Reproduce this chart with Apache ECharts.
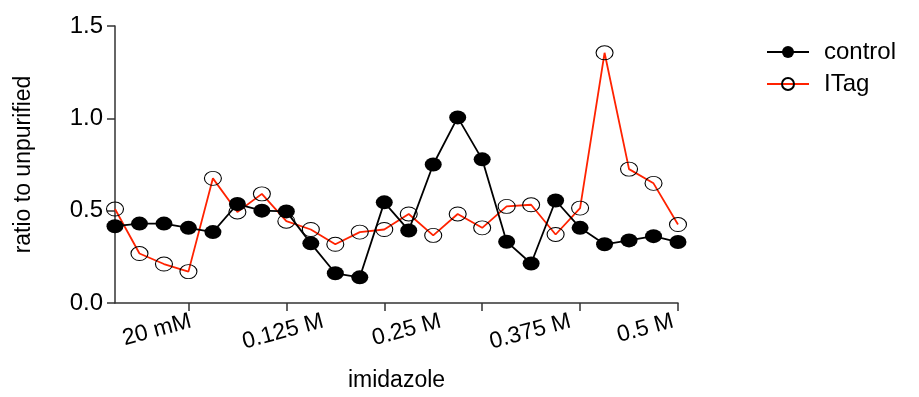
<!DOCTYPE html>
<html>
<head>
<meta charset="utf-8">
<script src="https://cdn.jsdelivr.net/npm/echarts@6/dist/echarts.min.js"></script>
<style>html,body{margin:0;padding:0;background:#fff}#c{width:919px;height:397px}</style>
</head>
<body>
<div id="c"></div>
<script>
const fractions = [0,1,2,3,4,5,6,7,8,9,10,11,12,13,14,15,16,17,18,19,20,21,22,23];
const control = [0.416,0.43,0.43,0.407,0.384,0.536,0.5,0.496,0.323,0.161,0.139,0.545,0.393,0.75,1.005,0.778,0.332,0.214,0.555,0.407,0.318,0.339,0.362,0.33];
const itag = [0.509,0.268,0.211,0.17,0.675,0.493,0.591,0.443,0.398,0.318,0.384,0.398,0.482,0.366,0.482,0.407,0.523,0.532,0.371,0.514,1.355,0.725,0.648,0.425];
const tickValues = [3,7,11,15,19,23];
const labelValues = [3.1,8.5,13.3,18.6,22.8];
const labelTexts = ['20 mM','0.125 M','0.25 M','0.375 M','0.5 M'];

const font = 'Liberation Sans, Arial, Helvetica, sans-serif';
const chart = echarts.init(document.getElementById('c'));
chart.setOption({
  animation:false,
  backgroundColor:'#fff',
  grid:{left:115,right:241,top:26,bottom:91,containLabel:false},
  legend:{
    orient:'vertical', left:761, top:35, itemWidth:42, itemHeight:15, itemGap:8,
    textStyle:{fontFamily:font,fontSize:24,color:'#000',padding:[0,0,0,10]},
    data:['control','ITag']
  },
  xAxis:{
    type:'value', min:0, max:23,
    name:'imidazole', nameLocation:'middle', nameGap:66,
    nameTextStyle:{fontFamily:font,fontSize:23,color:'#000'},
    axisLine:{show:true,onZero:false,lineStyle:{color:'#333',width:1.5}},
    axisTick:{show:true,length:8,customValues:tickValues,lineStyle:{color:'#333',width:1.5}},
    axisLabel:{show:true,rotate:15,margin:18,fontFamily:font,fontSize:23,color:'#000',
      customValues:labelValues,
      formatter:function(v){const i=labelValues.indexOf(v);return i>=0?labelTexts[i]:'';}},
    splitLine:{show:false}
  },
  yAxis:{
    type:'value', min:0, max:1.5, interval:0.5,
    name:'ratio to unpurified', nameLocation:'middle', nameGap:80,
    nameTextStyle:{fontFamily:font,fontSize:23,color:'#000'},
    axisLine:{show:true,lineStyle:{color:'#333',width:1.5}},
    axisTick:{show:true,length:8,lineStyle:{color:'#333',width:1.5}},
    axisLabel:{margin:12,fontFamily:font,fontSize:24,color:'#000',
      formatter:function(v){return v.toFixed(1);}},
    splitLine:{show:false}
  },
  series:[
    {
      name:'ITag', type:'line', z:2,
      data:fractions.map((f,i)=>[f,itag[i]]),
      symbol:'circle', symbolSize:[17,14],
      lineStyle:{color:'#ff2200',width:1.8},
      itemStyle:{color:'rgba(255,255,255,0)',borderColor:'#000',borderWidth:1},
      emphasis:{disabled:true}
    },
    {
      name:'control', type:'line', z:3,
      data:fractions.map((f,i)=>[f,control[i]]),
      symbol:'circle', symbolSize:[17,14],
      lineStyle:{color:'#000',width:1.8},
      itemStyle:{color:'#000',borderColor:'#000',borderWidth:0},
      emphasis:{disabled:true}
    }
  ]
});
</script>
</body>
</html>
